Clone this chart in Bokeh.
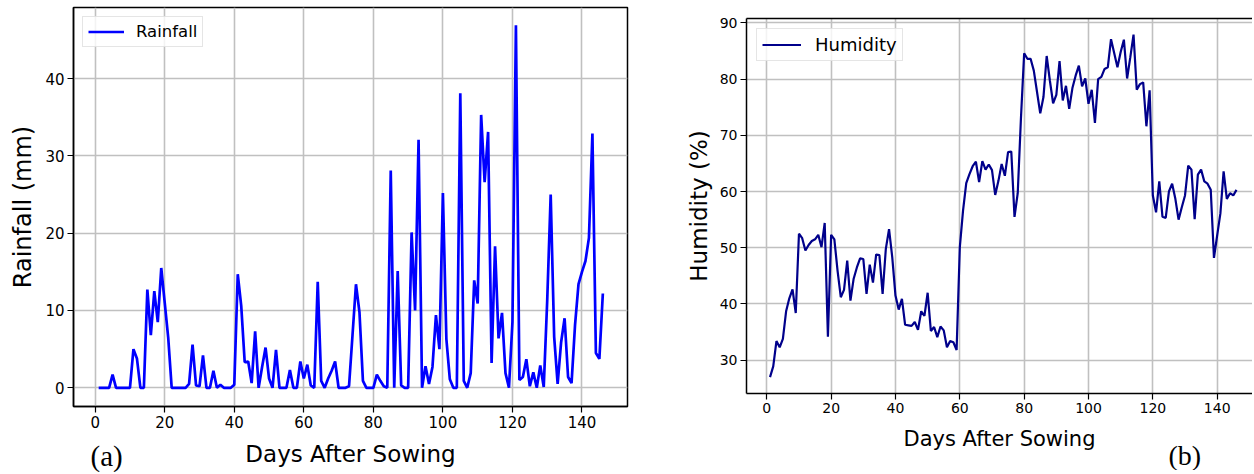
from bokeh.plotting import figure
from bokeh.models import Range1d, FixedTicker, LinearAxis, Title, Spacer
from bokeh.layouts import row, column
from bokeh.embed import file_html
from bokeh.resources import INLINE

# ---------------- data ----------------
days = list(range(1, 147))

rainfall = [
    0, 0, 0, 0, 1.7, 0, 0, 0, 0, 0,
    5.0, 3.8, 0, 0, 12.7, 6.8, 12.5, 8.5, 15.5, 11.0,
    6.5, 0, 0, 0, 0, 0, 0.5, 5.6, 0.3, 0.2,
    4.2, 0, 0, 2.2, 0, 0.4, 0, 0, 0, 0.4,
    14.7, 10.6, 3.3, 3.4, 0.6, 7.3, 0, 2.7, 5.2, 1.2,
    0, 4.9, 0, 0, 0, 2.3, 0, 0, 3.4, 1.2,
    3.0, 0.3, 0, 13.7, 0.9, 0, 1.2, 2.2, 3.4, 0,
    0, 0, 0.2, 6.8, 13.4, 9.8, 0.9, 0, 0, 0,
    1.7, 0.9, 0.2, 0, 28.1, 0, 15.1, 0.3, 0, 0,
    20.1, 10.0, 32.1, 0, 2.8, 0.5, 2.7, 9.4, 5.0, 25.2,
    6.3, 1.1, 0, 0, 38.1, 0.9, 0, 1.9, 13.9, 10.9,
    35.3, 26.6, 33.1, 3.2, 18.3, 6.4, 9.7, 1.9, 0, 8.5,
    46.9, 1.0, 1.4, 3.7, 0.2, 2.0, 0, 2.9, 0.1, 11.3,
    25.0, 6.6, 0.5, 5.9, 9.0, 1.4, 0.6, 8.1, 13.4, 15.0,
    16.4, 19.4, 32.9, 4.5, 3.75, 12.2,
]

humidity = [
    27.0, 28.9, 33.4, 32.3, 33.8, 38.7, 41.0, 42.6, 38.4, 52.5,
    51.7, 49.5, 50.5, 51.2, 51.5, 52.3, 50.1, 54.4, 34.2, 52.3,
    51.5, 45.9, 41.2, 42.5, 47.7, 40.6, 44.5, 46.5, 48.1, 48.0,
    41.8, 47.0, 43.8, 48.8, 48.7, 41.8, 49.8, 53.3, 48.3, 41.5,
    39.0, 40.9, 36.3, 36.2, 36.1, 36.8, 35.4, 38.7, 37.9, 42.0,
    35.2, 35.9, 34.1, 36.0, 35.3, 32.3, 33.4, 33.2, 31.8, 50.1,
    56.6, 61.5, 63.1, 64.5, 65.3, 61.7, 65.4, 63.9, 64.8, 63.8,
    59.4, 61.9, 64.9, 62.8, 67.0, 67.1, 55.5, 59.7, 73.0, 84.6,
    83.6, 83.6, 81.5, 77.7, 73.9, 76.8, 84.1, 79.7, 75.7, 77.2,
    83.2, 76.2, 78.8, 74.7, 78.4, 80.6, 82.4, 78.7, 80.1, 75.6,
    78.1, 72.2, 80.0, 80.4, 81.8, 82.1, 87.1, 84.6, 82.1, 84.8,
    87.0, 80.1, 83.9, 87.9, 78.1, 79.1, 79.4, 71.6, 78.0, 59.3,
    56.3, 61.8, 55.5, 55.3, 60.0, 61.4, 58.7, 55.0, 57.2, 59.3,
    64.6, 63.9, 55.1, 63.0, 63.9, 61.8, 61.4, 60.3, 48.2, 52.2,
    56.1, 63.6, 58.7, 59.7, 59.3, 60.3,
]

x_ticks = [0, 20, 40, 60, 80, 100, 120, 140]
rain_ticks = [0, 10, 20, 30, 40]
hum_ticks = [30, 40, 50, 60, 70, 80, 90]

FONT = "DejaVu Sans"
GRID = "#c0c0c0"


def style(p, tick_size, xlab_size, ylab_size, xlab_standoff, ylab_standoff, tick_standoff):
    for ax in (p.xaxis[0], p.yaxis[0]):
        ax.major_tick_out = 6
        ax.major_tick_in = 0
        ax.minor_tick_out = 0
        ax.minor_tick_in = 0
        ax.major_tick_line_color = "black"
        ax.major_tick_line_width = 1.2
        ax.axis_line_color = "black"
        ax.axis_line_width = 1.5
        ax.major_label_text_font = FONT
        ax.major_label_text_font_size = tick_size
        ax.major_label_text_color = "black"
        ax.axis_label_text_font = FONT
        ax.axis_label_text_font_style = "normal"
        ax.axis_label_text_color = "black"
        ax.major_label_standoff = tick_standoff
    p.xaxis[0].axis_label_text_font_size = xlab_size
    p.yaxis[0].axis_label_text_font_size = ylab_size
    p.xaxis[0].axis_label_standoff = xlab_standoff
    p.yaxis[0].axis_label_standoff = ylab_standoff
    p.xgrid.grid_line_color = GRID
    p.ygrid.grid_line_color = GRID
    p.xgrid.grid_line_width = 1.6
    p.ygrid.grid_line_width = 1.6
    p.background_fill_color = "white"
    p.border_fill_color = "white"


def style_legend(lg, margin, glyph_w, standoff, size, padding):
    lg.location = "top_left"
    lg.margin = margin
    lg.padding = padding
    lg.spacing = 0
    lg.glyph_width = glyph_w
    lg.glyph_height = 19
    lg.label_height = 19
    lg.label_standoff = standoff
    lg.label_text_font = FONT
    lg.label_text_font_size = size
    lg.label_text_color = "black"
    lg.border_line_color = "#cccccc"
    lg.border_line_width = 1
    lg.background_fill_alpha = 0.8


# ---------------- left panel: rainfall ----------------
p1 = figure(width=680, height=472, output_backend="svg", toolbar_location=None,
            x_range=Range1d(-6.24, 153.09), y_range=Range1d(-2.42, 49.2),
            min_border_left=73, min_border_right=53, min_border_top=7, min_border_bottom=66,
            x_axis_label="Days After Sowing", y_axis_label="Rainfall (mm)")
p1.xaxis.ticker = FixedTicker(ticks=x_ticks)
p1.yaxis.ticker = FixedTicker(ticks=rain_ticks)
style(p1, "15px", "23px", "24px", 10, 5, 3)
p1.outline_line_color = "black"
p1.outline_line_width = 1.5
p1.outline_line_alpha = 1.0

p1.line(days, rainfall, line_color="#0000ff", line_width=2.7, legend_label="Rainfall")
style_legend(p1.legend[0], 9, 36, 12, "16.5px", 5)

p1.add_layout(Title(text="(a)", align="left", vertical_align="top", offset=17,
                    standoff=-60, text_font="Liberation Serif", text_font_size="29px",
                    text_font_style="normal", text_color="black"), "below")

# ---------------- right panel: humidity ----------------
p2 = figure(width=572, height=468, output_backend="svg", toolbar_location=None,
            x_range=Range1d(-6.31, 150.98), y_range=Range1d(24.08, 90.77),
            min_border_left=66, min_border_right=0, min_border_top=16, min_border_bottom=77,
            x_axis_label="Days After Sowing", y_axis_label="Humidity (%)")
p2.xaxis.ticker = FixedTicker(ticks=x_ticks)
p2.yaxis.ticker = FixedTicker(ticks=hum_ticks)
style(p2, "14px", "21px", "23px", 11, 5, 3)
p2.outline_line_color = None

top_axis = LinearAxis(ticker=FixedTicker(ticks=[]), axis_line_color="black",
                      axis_line_width=1.5, major_tick_out=0, major_tick_in=0,
                      minor_tick_out=0, minor_tick_in=0,
                      major_label_text_font_size="0px")
p2.add_layout(top_axis, "above")

p2.line(days, humidity, line_color="#00008b", line_width=2.2, legend_label="Humidity")
style_legend(p2.legend[0], 10, 39, 14, "18px", 5)

p2.add_layout(Title(text="(b)", align="left", vertical_align="middle", offset=422,
                    standoff=-29, text_font="Liberation Serif", text_font_size="28px",
                    text_font_style="normal", text_color="black"), "below")

layout = row(p1, column(Spacer(width=572, height=2), p2))
open("out.html", "w").write(file_html(layout, INLINE))
